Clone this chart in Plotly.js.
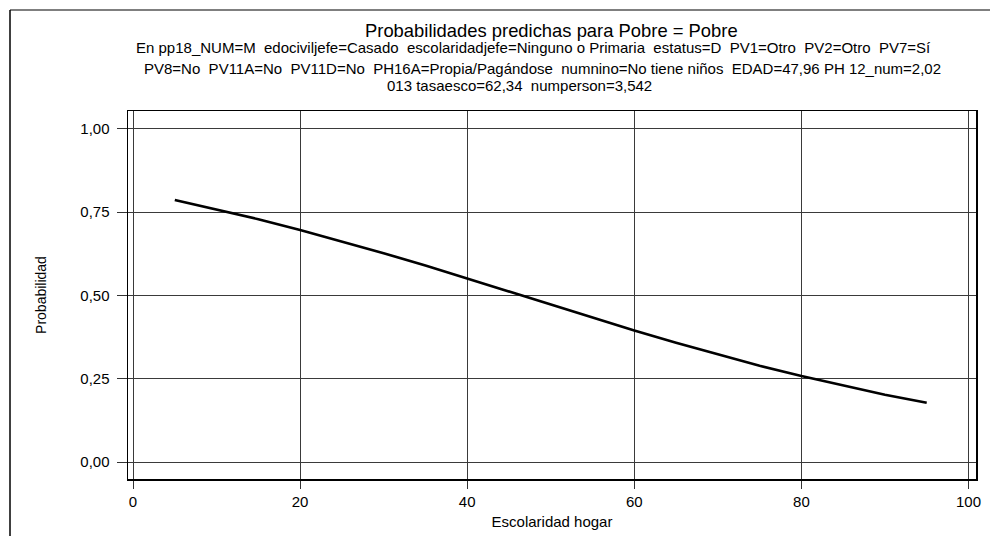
<!DOCTYPE html>
<html>
<head>
<meta charset="utf-8">
<script src="https://cdn.plot.ly/plotly-3.0.1.min.js"></script>
<style>
html,body{margin:0;padding:0;background:#fff;}
#chart{width:990px;height:536px;}
</style>
</head>
<body>
<div id="chart"></div>
<script>
// Data
var escolaridad = [5, 10, 15, 20, 25, 30, 35, 40, 45, 50, 55, 60, 65, 70, 75, 80, 85, 90, 95];
var probabilidad = [0.787, 0.759, 0.729, 0.697, 0.663, 0.627, 0.590, 0.551, 0.512, 0.472, 0.433, 0.395, 0.358, 0.323, 0.289, 0.258, 0.229, 0.202, 0.178];
var xTicks = [0, 20, 40, 60, 80, 100];
var yTicks = [0, 0.25, 0.5, 0.75, 1];
var titleText = "Probabilidades predichas para Pobre = Pobre";
var subtitleLines = [
  "En pp18_NUM=M  edociviljefe=Casado  escolaridadjefe=Ninguno o Primaria  estatus=D  PV1=Otro  PV2=Otro  PV7=Sí",
  "PV8=No  PV11A=No  PV11D=No  PH16A=Propia/Pagándose  numnino=No tiene niños  EDAD=47,96 PH 12_num=2,02",
  "013 tasaesco=62,34  numperson=3,542"
];
var xLabel = "Escolaridad hogar";
var yLabel = "Probabilidad";

var W = 990, H = 536;
var mL = 128, mR = 14, mT = 111, mB = 57;
var plotW = W - mL - mR, plotH = H - mT - mB;
function px(x){ return (x - mL) / plotW; }
function py(y){ return (H - mB - y) / plotH; }

var font = "Liberation Sans, Arial, sans-serif";

var subCenters = [533, 542, 519];
var subYs = [48, 68, 85];
var annotations = [{
  text: titleText, xref: "paper", yref: "paper", x: px(551), y: py(30),
  xanchor: "center", yanchor: "middle", showarrow: false,
  font: {family: font, size: 18.4, color: "#000"}
}];
subtitleLines.forEach(function(t, i){
  annotations.push({
    text: t, xref: "paper", yref: "paper", x: px(subCenters[i]), y: py(subYs[i]),
    xanchor: "center", yanchor: "middle", showarrow: false,
    font: {family: font, size: 15, color: "#000"}
  });
});

var trace = {
  x: escolaridad, y: probabilidad, type: "scatter", mode: "lines",
  line: {color: "#000", width: 2.6}, hoverinfo: "x+y"
};

var layout = {
  width: W, height: H,
  margin: {l: mL, r: mR, t: mT, b: mB, pad: 0},
  paper_bgcolor: "#fff", plot_bgcolor: "#fff",
  separators: ",.",
  showlegend: false,
  font: {family: font, color: "#000"},
  xaxis: {
    range: [-0.6, 100.9], tickvals: xTicks, ticktext: xTicks.map(String),
    showgrid: true, gridcolor: "#3a3a3a", gridwidth: 1, zeroline: false,
    showline: true, mirror: true, linecolor: "#000", linewidth: 1.5,
    ticks: "outside", ticklen: 8, tickcolor: "#333", tickwidth: 1,
    tickfont: {family: font, size: 15, color: "#000"},
    title: {text: xLabel, font: {family: font, size: 15, color: "#000"}, standoff: 8}
  },
  yaxis: {
    range: [-0.051, 1.054], tickvals: yTicks, tickformat: ".2f",
    showgrid: true, gridcolor: "#3a3a3a", gridwidth: 1, zeroline: false,
    showline: true, mirror: true, linecolor: "#000", linewidth: 1.5,
    ticks: "outside", ticklen: 10, tickcolor: "#333", tickwidth: 1,
    ticklabelstandoff: 4,
    tickfont: {family: font, size: 15, color: "#000"},
    title: {text: yLabel, font: {family: font, size: 14, color: "#000"}, standoff: 30}
  },
  annotations: annotations,
  shapes: [
    {type: "line", xref: "paper", yref: "paper", x0: px(10), x1: px(990), y0: py(10), y1: py(10), line: {color: "#555", width: 1.5}},
    {type: "line", xref: "paper", yref: "paper", x0: px(10), x1: px(10), y0: py(10), y1: py(536), line: {color: "#000", width: 1.5}}
  ]
};

Plotly.newPlot("chart", [trace], layout, {displayModeBar: false, staticPlot: true});
</script>
</body>
</html>
